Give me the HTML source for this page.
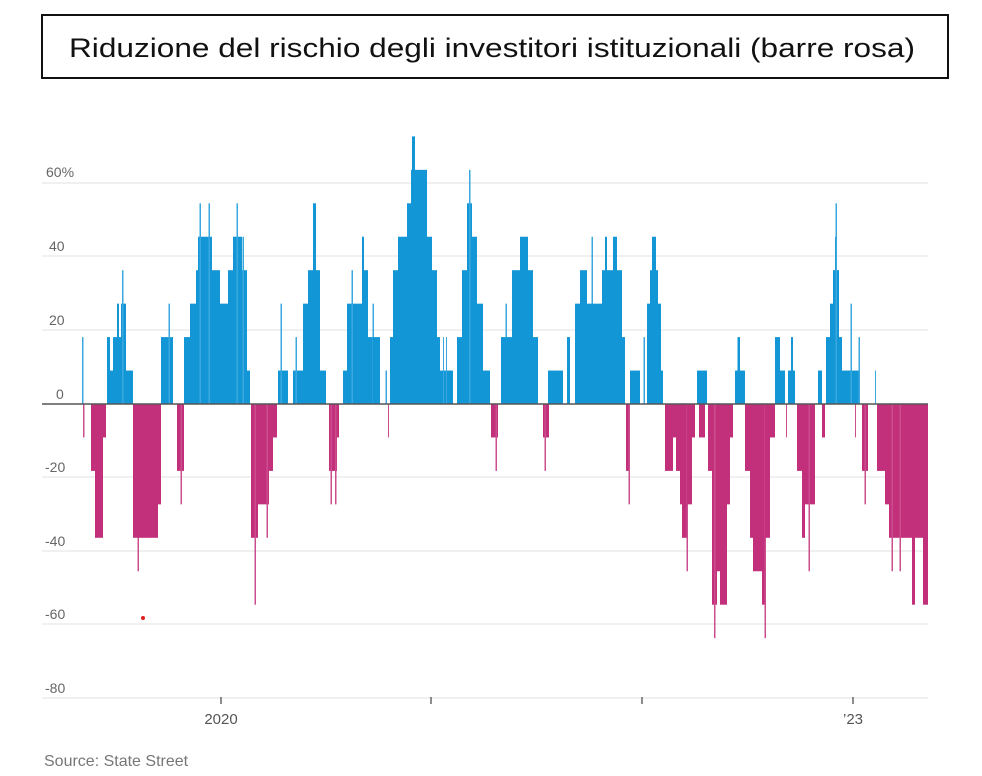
<!DOCTYPE html>
<html><head><meta charset="utf-8"><style>
html,body{margin:0;padding:0;background:#fff;}
svg{display:block;}
</style></head><body>
<svg id="c" width="982" height="776" xmlns="http://www.w3.org/2000/svg" font-family="Liberation Sans, sans-serif">
<rect x="0" y="0" width="982" height="776" fill="#fff"/>
<rect x="42" y="15" width="906" height="63" fill="#fff" stroke="#111" stroke-width="2"/>
<text x="492" y="57" font-size="27" text-anchor="middle" fill="#111" textLength="846" lengthAdjust="spacingAndGlyphs">Riduzione del rischio degli investitori istituzionali (barre rosa)</text>
<g stroke="#ececec" stroke-width="1.5">
<line x1="42" x2="928" y1="183" y2="183"/>
<line x1="42" x2="928" y1="256" y2="256"/>
<line x1="42" x2="928" y1="330" y2="330"/>
<line x1="42" x2="928" y1="477" y2="477"/>
<line x1="42" x2="928" y1="551" y2="551"/>
<line x1="42" x2="928" y1="624" y2="624"/>
<line x1="42" x2="928" y1="698" y2="698"/>
</g>
<g font-size="14" fill="#666">
<text x="46" y="177">60%</text>
<text x="49" y="251">40</text>
<text x="49" y="325">20</text>
<text x="56" y="399">0</text>
<text x="45" y="472">-20</text>
<text x="45" y="546">-40</text>
<text x="45" y="619">-60</text>
<text x="45" y="693">-80</text>
</g>
<g id="bars"></g>
<line x1="42" x2="928" y1="404" y2="404" stroke="#555" stroke-width="1.5"/>
<g stroke="#444" stroke-width="1.2">
<line x1="221" x2="221" y1="697" y2="704"/>
<line x1="431" x2="431" y1="697" y2="704"/>
<line x1="642" x2="642" y1="697" y2="704"/>
<line x1="853" x2="853" y1="697" y2="704"/>
</g>
<g font-size="15" fill="#555">
<text x="221" y="724" text-anchor="middle">2020</text>
<text x="853" y="724" text-anchor="middle">’23</text>
<text x="44" y="766" font-size="16" fill="#777">Source: State Street</text>
</g>
<circle cx="143" cy="618" r="2" fill="#e02020"/>
</svg>
<script>
var B=[[82,83.5,2],[107,110,2],[110,113,1],[113,117,2],[117,119,3],[119,121,2],[121,126,3],[122,123.5,4],[126,133,1],
[161,173,2],[168.5,170,3],
[184,190,2],[190,196,3],[196,198,4],[198,212,5],[199.5,201,6],[208.5,210,6],[212,220,4],[220,228,3],[228,233,4],[233,242,5],[236.5,238,6],[242,247,4],[242.5,244,5],[247,250,1],
[278,288,1],[280.5,282,3],
[293,303,1],[295.5,297,2],[303,308,3],[308,313,4],[313,316,6],[316,320,4],[320,326,1],
[343,347,1],[347,356,3],[351.5,353,4],[356,362,3],[362,364,5],[364,368,4],[368,373,2],[372.5,374,3],[373,380,2],
[385.5,387,1],
[390,393,2],[393,398,4],[398,407,5],[407,411,6],[411,427,7],[412,415,8],[427,432,5],[432,437,4],[437,440,2],[440,453,1],[443,444,2],[446,447,2],
[457,462,2],[462,467,4],[467,472,6],[469,470.5,7],[472,477,5],[477,483,3],[483,490,1],
[501,505,2],[505.5,507,3],[505,512,2],[512,520,4],[520,528,5],[528,533,4],[533,538,2],
[548,563,1],[567,570,2],
[575,580,3],[580,587,4],[591.5,593,5],[587,602,3],[602,607,4],[605,607,5],[607,613,4],[613,617,5],[617,622,4],[622,625,2],
[630,640,1],[643.5,645,2],
[647,650,3],[650,652,4],[652,656,5],[656,658,4],[658,661,3],[661,663,1],
[697,707,1],[735,745,1],[737.5,740,2],[775,780,2],[780,785,1],[788,795,1],[791,793,2],[818,822,1],[826,830,2],[830,833,3],[833,836,4],[835,837,5],[835.5,837,6],[837,839,4],[839,842,2],[842,860,1],[850.5,852,3],[858.5,860,2],[875,876,1],
[83,84.5,-1],[91,95,-2],[95,103,-4],[103,106,-1],
[133,137,-4],[137.5,139,-5],[137,147,-4],[145,147,-3],[147,158,-4],[158,161,-3],
[177,184,-2],[180.5,182,-3],
[251,258,-4],[254.5,256,-6],[258,263,-3],[263,269,-3],[266.5,268,-4],[269,273,-2],[273,277,-1],
[329,337,-2],[330.5,332,-3],[335,336.5,-3],[337,339,-1],
[388,389,-1],[491,498,-1],[495.5,497,-2],[543,549,-1],[544.5,546,-2],[626,630,-2],[628.5,630,-3],
[665,673,-2],[673,676,-1],[676,680,-2],[680,682,-3],[682,687,-4],[686.5,688,-5],[687,692,-3],[692,695,-1],[699,705,-1],
[708,712,-2],[712,717,-6],[714,715.5,-7],[717,720,-5],[720,727,-6],[727,730,-3],[730,733,-1],
[745,750,-2],[750,753,-4],[753,762,-5],[762,765,-6],[764.5,766,-7],[765,770,-4],[770,775,-1],
[786,787,-1],[797,802,-2],[802,805,-4],[805,810,-3],[808.5,810,-5],[810,815,-3],[822,825,-1],[855,856,-1],[862,868,-2],[864.5,866,-3],
[877,885,-2],[885,889,-3],[889,905,-4],[891.5,893,-5],[899.5,901,-5],[905,915,-4],[912,915,-6],[915,923,-4],[923,928,-6]];
var g=document.getElementById('bars'),ns='http://www.w3.org/2000/svg',y0=404,s=33.45;
B.forEach(function(b){var r=document.createElementNS(ns,'rect');var h=Math.abs(b[2])*s;
r.setAttribute('x',b[0]);r.setAttribute('width',b[1]-b[0]);
r.setAttribute('y',b[2]>0?y0-h:y0);r.setAttribute('height',h);
var thin=(b[1]-b[0])<2;
r.setAttribute('fill',b[2]>0?(thin?'#3aa8de':'#1296d6'):(thin?'#cc4d8e':'#c2307b'));
g.appendChild(r);});
</script>
</body></html>
